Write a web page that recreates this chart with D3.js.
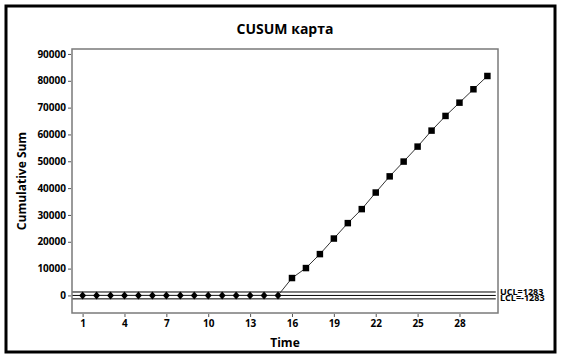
<!DOCTYPE html>
<html>
<head>
<meta charset="utf-8">
<script src="https://cdn.jsdelivr.net/npm/d3@7"></script>
<style>
  body { margin: 0; background: #fff; }
  text { font-family: "Open Sans", sans-serif; font-weight: bold; fill: #000; }
</style>
</head>
<body>
<div id="chart"></div>
<script>
// CUSUM data
const times = d3.range(1, 31);
const cusum = [0, 0, 0, 0, 0, 0, 0, 0, 0, 0, 0, 0, 0, 0, 0,
  6480, 10200, 15400, 21200, 26950, 32170, 38350, 44380, 49890, 55470,
  61430, 66900, 71850, 76840, 81790];
const xTicks = [1, 4, 7, 10, 13, 16, 19, 22, 25, 28];
const yTicks = d3.range(0, 90001, 10000);
const limits = [{ name: "UCL", value: 1283 }, { name: "CL", value: 0 }, { name: "LCL", value: -1283 }];

const W = 561, H = 356;
const mLeft = 72, mRight = 498, mTop = 49, mBottom = 313;

const svg = d3.select("#chart").append("svg").attr("width", W).attr("height", H);

// outer frame
svg.append("rect").attr("x", 6).attr("y", 6).attr("width", 549).attr("height", 346)
  .attr("fill", "none").attr("stroke", "#000").attr("stroke-width", 3);

const x = d3.scaleLinear().domain([0.24, 30.76]).range([mLeft, mRight]);
const y = d3.scaleLinear().domain([-6550, 91850]).range([mBottom, mTop]);

// plot box
svg.append("rect").attr("x", mLeft).attr("y", mTop).attr("width", mRight - mLeft).attr("height", mBottom - mTop)
  .attr("fill", "none").attr("stroke", "#7a7a7a").attr("stroke-width", 1.5);

// axes
const yAxis = svg.append("g").attr("transform", `translate(${mLeft - 1},0)`)
  .call(d3.axisLeft(y).tickValues(yTicks).tickSize(3).tickPadding(2).tickFormat(d3.format("d")));
const xAxis = svg.append("g").attr("transform", `translate(0,${mBottom + 1})`)
  .call(d3.axisBottom(x).tickValues(xTicks).tickSize(3).tickPadding(3));
[yAxis, xAxis].forEach(g => {
  g.select(".domain").remove();
  g.selectAll("text").attr("font-size", 10).attr("font-family", "Open Sans").attr("font-weight", "bold");
  g.selectAll("line").attr("stroke", "#555");
});

// control limit lines
svg.selectAll(".limit").data(limits).enter().append("line")
  .attr("x1", x(1) - 10).attr("x2", x(30.6))
  .attr("y1", d => y(d.value)).attr("y2", d => y(d.value))
  .attr("stroke", "#000").attr("stroke-width", 1);

svg.selectAll(".limlab").data(limits.filter(d => d.name !== "CL")).enter().append("text")
  .attr("x", 500).attr("y", d => y(d.value) + (d.value > 0 ? 3 : 2))
  .attr("font-size", 9)
  .text(d => `${d.name}=${d.value}`);

// cusum line
const pts = times.map((t, i) => ({ t: t, v: cusum[i] }));
svg.append("path").datum(pts)
  .attr("d", d3.line().x(d => x(d.t)).y(d => y(d.v)))
  .attr("fill", "none").attr("stroke", "#333").attr("stroke-width", 1);

svg.selectAll(".pt").data(pts).enter().append("path")
  .attr("transform", d => `translate(${x(d.t)},${y(d.v)}) scale(${d.t <= 15 ? "1.25,0.85" : "1,1"})`)
  .attr("d", d => d3.symbol().type(d.t <= 15 ? d3.symbolDiamond : d3.symbolSquare).size(d.t <= 15 ? 26 : 42)())
  .attr("fill", "#000");

// titles
svg.append("text").attr("x", 285).attr("y", 34).attr("text-anchor", "middle")
  .attr("font-size", 14).text("CUSUM карта");
svg.append("text").attr("x", 285).attr("y", 347).attr("text-anchor", "middle")
  .attr("font-size", 12).text("Time");
svg.append("text").attr("transform", `translate(26,${(mTop + mBottom) / 2}) rotate(-90)`)
  .attr("text-anchor", "middle").attr("font-size", 12).text("Cumulative Sum");
</script>
</body>
</html>
